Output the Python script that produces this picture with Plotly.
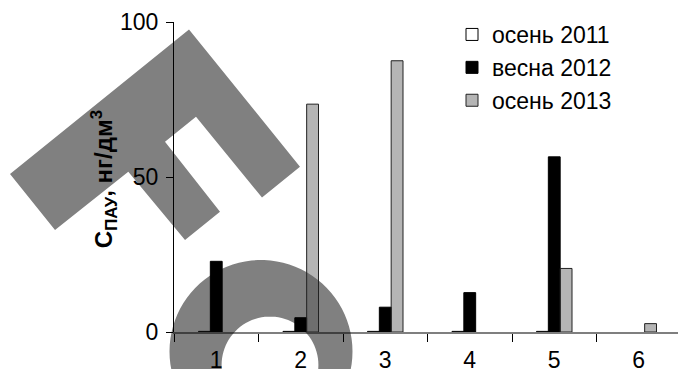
import numpy as np
import plotly.graph_objects as go

# ---------------- data ----------------
categories = ["1", "2", "3", "4", "5", "6"]
autumn_2011 = [0.2, 0.2, 0.2, 0.2, 0.2, None]
spring_2012 = [22.8, 4.6, 8.0, 12.7, 56.5, None]
autumn_2013 = [None, 73.5, 87.5, None, 20.5, 2.7]
series_names = ["осень 2011", "весна 2012", "осень 2013"]
y_ticks = [0, 50, 100]

# ---------------- layout geometry (page pixels) ----------------
PAGE_W, PAGE_H = 686, 369
OFF = 8                      # default body margin of the html page
W, H = PAGE_W - OFF, PAGE_H - OFF
PLOT_X0, PLOT_X1 = 174, 681  # plot area in page pixels
PLOT_Y0, PLOT_Y1 = 22, 332
L = PLOT_X0 - OFF
R = PAGE_W - PLOT_X1
T = PLOT_Y0 - OFF
B = PAGE_H - PLOT_Y1
PW, PH = PLOT_X1 - PLOT_X0, PLOT_Y1 - PLOT_Y0

def px_to_paper(px, py):
    return (px - PLOT_X0) / PW, (PLOT_Y1 - py) / PH

# decorative watermark (grey logo behind the chart), outline in page pixels
logo_poly = [(189, 29.5), (300, 166.7), (262, 197.5), (196, 116.7), (165, 141.7),
             (220, 211.7), (185, 240), (128.3, 171.7), (55, 230), (10, 174)]
ring_outer = (261, 351.5, 91.5)
ring_inner = (270, 365, 48.4)

def poly_path(pts):
    s = ""
    for i, (px, py) in enumerate(pts):
        x, y = px_to_paper(px, py)
        s += ("M" if i == 0 else "L") + f"{x:.5f},{y:.5f} "
    return s + "Z "

def circle_pts(cx, cy, r, n=90, reverse=False):
    a = np.linspace(0, 2 * np.pi, n, endpoint=False)
    if reverse:
        a = a[::-1]
    return [(cx + r * np.cos(t), cy + r * np.sin(t)) for t in a]

ring_path = poly_path(circle_pts(*ring_outer)) + poly_path(circle_pts(*ring_inner, reverse=True))

FONT = "Liberation Sans, Arial, sans-serif"

fig = go.Figure()
fig.add_trace(go.Bar(
    x=categories, y=autumn_2011, name=series_names[0],
    marker=dict(color="white", line=dict(color="black", width=1)),
))
fig.add_trace(go.Bar(
    x=categories, y=spring_2012, name=series_names[1],
    marker=dict(color="black", line=dict(color="black", width=1)),
))
fig.add_trace(go.Bar(
    x=categories, y=autumn_2013, name=series_names[2],
    marker=dict(color="rgba(255,255,255,0)", line=dict(color="#222", width=1),
                pattern=dict(shape=".", fgcolor="#555", bgcolor="rgba(255,255,255,0)",
                             size=2, solidity=0.5)),
))

fig.update_layout(
    width=W, height=H,
    margin=dict(l=L, r=R, t=T, b=B, autoexpand=False),
    template="none",
    paper_bgcolor="white", plot_bgcolor="rgba(0,0,0,0)",
    barmode="group", bargap=0.58, bargroupgap=0,
    font=dict(family=FONT, size=23, color="black"),
    showlegend=True,
    legend=dict(x=(452 - PLOT_X0) / PW, y=(PLOT_Y1 - 13) / PH, xanchor="left", yanchor="top",
                font=dict(size=23, family=FONT), bgcolor="rgba(0,0,0,0)",
                traceorder="normal", itemwidth=30, tracegroupgap=0),
    shapes=[
        dict(type="path", xref="paper", yref="paper", path=poly_path(logo_poly),
             fillcolor="#808080", line=dict(width=0), layer="below"),
        dict(type="path", xref="paper", yref="paper", path=ring_path,
             fillcolor="#808080", line=dict(width=0), layer="below"),
    ],
    annotations=[
        dict(text="<b>С<sub>ПАУ</sub>, нг/дм<sup>3</sup></b>", xref="paper", yref="paper",
             x=(104 - PLOT_X0) / PW, y=0.493, xanchor="center", yanchor="middle",
             textangle=-90, showarrow=False, font=dict(size=24, family=FONT, color="black")),
    ],
)

fig.update_xaxes(
    type="category", range=[-0.5, 5.5], tickson="boundaries",
    showline=True, linecolor="rgba(0,0,0,0.5)", linewidth=2,
    ticks="outside", ticklen=8, tickcolor="black", tickwidth=1,
    showgrid=False, zeroline=False, automargin=False,
    tickfont=dict(size=23, family=FONT), ticklabelstandoff=6,
)
fig.update_yaxes(
    range=[0, 100], tickvals=y_ticks, ticktext=[str(v) for v in y_ticks],
    showline=True, linecolor="black", linewidth=1,
    ticks="outside", ticklen=7, tickcolor="black", tickwidth=1,
    showgrid=False, zeroline=False, automargin=False,
    tickfont=dict(size=23, family=FONT), ticklabelstandoff=3,
)

fig.write_html("out.html")
